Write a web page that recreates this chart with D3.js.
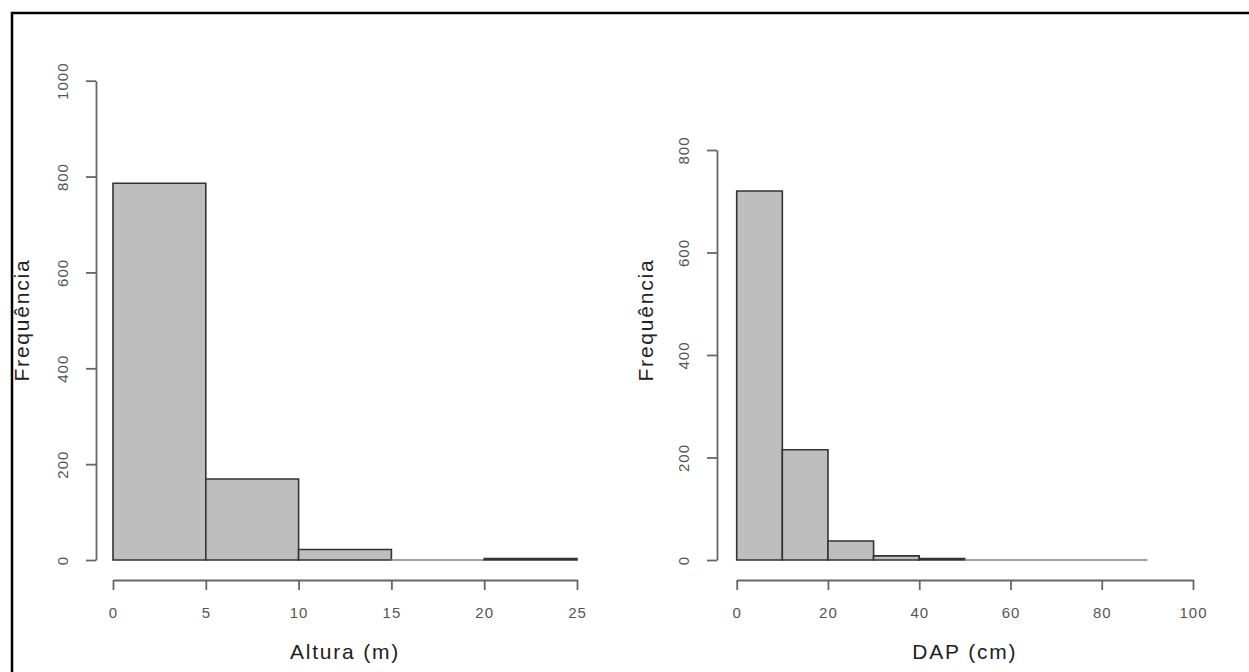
<!DOCTYPE html>
<html>
<head>
<meta charset="utf-8">
<script src="https://cdn.jsdelivr.net/npm/d3@7"></script>
<style>
  body { margin: 0; background: #fff; }
  svg { display: block; font-family: "Liberation Sans", Arial, sans-serif; }
</style>
</head>
<body>
<div id="chart"></div>
<script>
// histogram data
var alturaBreaks = [0, 5, 10, 15, 20, 25];
var alturaCounts = [786, 169, 22, 0, 3];
var alturaTicksX = [0, 5, 10, 15, 20, 25];
var alturaTicksY = [0, 200, 400, 600, 800, 1000];

var dapBreaks = [0, 10, 20, 30, 40, 50, 60, 70, 80, 90];
var dapCounts = [720, 215, 37, 8, 3, 0, 0, 0, 0];
var dapTicksX = [0, 20, 40, 60, 80, 100];
var dapTicksY = [0, 200, 400, 600, 800];

var W = 1249, H = 672;

var svg = d3.select("#chart").append("svg")
  .attr("width", W)
  .attr("height", H);

// outer frame (cut off on the right and bottom in the original)
svg.append("rect")
  .attr("x", 12).attr("y", 13)
  .attr("width", W + 20).attr("height", H + 20)
  .attr("fill", "none")
  .attr("stroke", "#000")
  .attr("stroke-width", 2.5);

function histPanel(opt) {
  var x = d3.scaleLinear().domain([opt.xTicks[0], opt.xTicks[opt.xTicks.length - 1]]).range(opt.xRange);
  var y = d3.scaleLinear().domain([0, opt.yTicks[opt.yTicks.length - 1]]).range(opt.yRange);

  var bins = opt.counts.map(function(c, i) {
    return { x0: opt.breaks[i], x1: opt.breaks[i + 1], n: c };
  });

  var g = svg.append("g");

  // bars as closed paths, so that empty bins still show as a line
  g.selectAll("path.bar")
    .data(bins)
    .enter().append("path")
      .attr("class", "bar")
      .attr("d", function(d) {
        return "M" + x(d.x0) + "," + y(0) + "V" + y(d.n) + "H" + x(d.x1) + "V" + y(0) + "Z";
      })
      .attr("fill", "#bebebe")
      .attr("stroke", function(d) { return d.n === 0 ? "#a0a0a0" : "#333"; })
      .attr("stroke-width", function(d) { return d.n === 0 ? 2 : 1.6; });

  // x axis (offset below the bars, R style)
  var xa = g.append("g")
    .attr("transform", "translate(0," + opt.xAxisY + ")")
    .call(d3.axisBottom(x).tickValues(opt.xTicks).tickFormat(d3.format("d"))
      .tickSize(10).tickSizeOuter(0).tickPadding(17));

  // y axis
  var ya = g.append("g")
    .attr("transform", "translate(" + opt.yAxisX + ",0)")
    .call(d3.axisLeft(y).tickValues(opt.yTicks).tickFormat(d3.format("d"))
      .tickSize(10).tickSizeOuter(0));

  ya.selectAll(".tick text")
    .attr("x", null)
    .attr("dy", null)
    .attr("text-anchor", "middle")
    .attr("transform", "translate(-28,0) rotate(-90)");

  [xa, ya].forEach(function(a) {
    a.select(".domain").attr("stroke", "#666").attr("stroke-width", 1.8);
    a.selectAll(".tick line").attr("stroke", "#666").attr("stroke-width", 1.8);
    a.selectAll(".tick text")
      .attr("fill", "#555")
      .style("font-size", "15px")
      .style("letter-spacing", "1px")
      .style("font-family", "\"Liberation Sans\", Arial, sans-serif");
  });

  // axis titles
  g.append("text")
    .attr("x", (opt.xRange[0] + opt.xRange[1]) / 2)
    .attr("y", 659)
    .attr("text-anchor", "middle")
    .attr("fill", "#222")
    .style("font-size", "21px")
    .style("letter-spacing", "1.8px")
    .text(opt.xLabel);

  g.append("text")
    .attr("transform", "translate(" + opt.yLabelX + ",320) rotate(-90)")
    .attr("text-anchor", "middle")
    .attr("fill", "#222")
    .style("font-size", "21px")
    .style("letter-spacing", "1.8px")
    .text("Frequência");
}

histPanel({
  breaks: alturaBreaks, counts: alturaCounts,
  xTicks: alturaTicksX, yTicks: alturaTicksY,
  xRange: [113, 577], yRange: [560, 80.7],
  xAxisY: 580, yAxisX: 96, yLabelX: 29,
  xLabel: "Altura (m)"
});

histPanel({
  breaks: dapBreaks, counts: dapCounts,
  xTicks: dapTicksX, yTicks: dapTicksY,
  xRange: [736.7, 1193], yRange: [560, 150],
  xAxisY: 580, yAxisX: 717, yLabelX: 653,
  xLabel: "DAP (cm)"
});
</script>
</body>
</html>
